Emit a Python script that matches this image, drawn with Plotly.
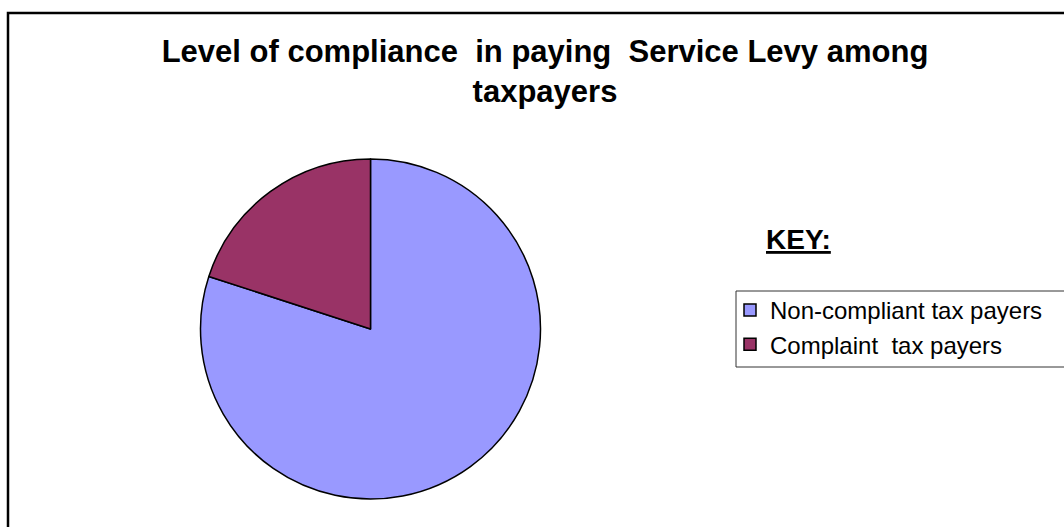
import plotly.graph_objects as go

# Share of taxpayers by compliance status (percent)
labels = ["Non-compliant tax payers", "Complaint\u00a0 tax payers"]
values = [80, 20]
colors = ["#9999FF", "#993366"]

title_text = "Level of compliance\u00a0 in paying\u00a0 Service Levy among<br>taxpayers"
key_text = "<b><u>KEY:</u></b>"

W, H = 1064, 527
FONT = "Liberation Sans, Arial, sans-serif"


def px_x(x):
    return x / W


def px_y(y):
    return 1 - y / H


# pie centre and radius in pixels
cx, cy, r = 370.5, 329, 170

fig = go.Figure(
    go.Pie(
        labels=labels,
        values=values,
        marker=dict(colors=colors, line=dict(color="black", width=1.5)),
        sort=False,
        direction="clockwise",
        rotation=0,
        textinfo="none",
        hoverinfo="label+percent",
        domain=dict(x=[px_x(cx - r), px_x(cx + r)], y=[px_y(cy + r), px_y(cy - r)]),
    )
)

fig.update_layout(
    width=W,
    height=H,
    margin=dict(l=0, r=0, t=0, b=0),
    paper_bgcolor="white",
    plot_bgcolor="white",
    font=dict(family=FONT, color="black"),
    title=dict(
        text=title_text,
        font=dict(family=FONT, size=31, color="black", weight="bold"),
        x=px_x(545),
        xanchor="center",
        xref="paper",
        yref="container",
        y=px_y(62),
        yanchor="top",
    ),
    showlegend=True,
    legend=dict(
        x=px_x(730),
        xanchor="left",
        y=px_y(288),
        yanchor="top",
        font=dict(family=FONT, size=24, color="black"),
        bgcolor="rgba(0,0,0,0)",
        borderwidth=0,
        traceorder="normal",
    ),
    annotations=[
        dict(
            text=key_text,
            x=px_x(798),
            y=px_y(240),
            xref="paper",
            yref="paper",
            xanchor="center",
            yanchor="middle",
            showarrow=False,
            font=dict(family=FONT, size=28, color="black"),
        )
    ],
    shapes=[
        # outer chart frame (runs off the right and bottom edges)
        dict(
            type="rect", xref="paper", yref="paper",
            x0=px_x(8), x1=1.05, y0=-0.05, y1=px_y(13),
            line=dict(color="black", width=2.5),
            fillcolor="rgba(0,0,0,0)",
        ),
        # legend box
        dict(
            type="rect", xref="paper", yref="paper",
            x0=px_x(736), x1=1.05, y0=px_y(367), y1=px_y(291),
            line=dict(color="#333333", width=1),
            fillcolor="rgba(0,0,0,0)",
        ),
    ],
)

fig.write_html("out.html")
